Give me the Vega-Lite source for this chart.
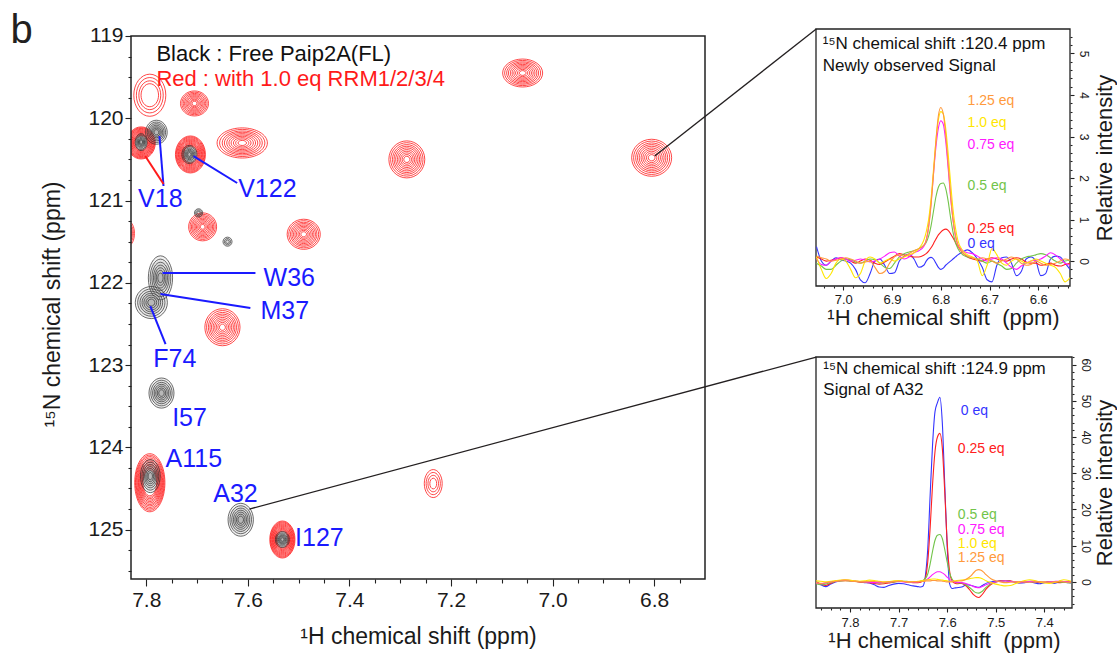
{
  "$schema": "https://vega.github.io/schema/vega-lite/v6.json",
  "background": "white",
  "padding": {"left": 10, "top": 10, "right": 2, "bottom": 2},
  "bounds": "flush",
  "spacing": 111,
  "config": {
    "font": "Liberation Sans",
    "view": {"stroke": null},
    "axis": {"labelFont": "Liberation Sans", "titleFont": "Liberation Sans", "labelColor": "#1a1a1a", "titleColor": "#1a1a1a", "tickColor": "#222", "tickWidth": 1.1, "domain": false, "grid": false, "titleFontWeight": "normal", "labelOverlap": false, "labelFlush": false, "labelBound": false},
    "text": {"font": "Liberation Sans"}
  },
  "datasets": {
    "redContours": [
      {"p":"R1","x":7.059,"y":119.45,"r":0.170},{"p":"R1","x":7.059,"y":119.45,"r":0.153},{"p":"R1","x":7.059,"y":119.45,"r":0.136},{"p":"R1","x":7.059,"y":119.45,"r":0.121},{"p":"R1","x":7.059,"y":119.45,"r":0.105},{"p":"R1","x":7.059,"y":119.45,"r":0.090},{"p":"R1","x":7.059,"y":119.45,"r":0.075},{"p":"R1","x":7.059,"y":119.45,"r":0.060},{"p":"R1","x":7.059,"y":119.45,"r":0.044},{"p":"R1","x":7.059,"y":119.45,"r":0.029},
      {"p":"R2","x":6.805,"y":120.48,"r":0.225},{"p":"R2","x":6.805,"y":120.48,"r":0.203},{"p":"R2","x":6.805,"y":120.48,"r":0.180},{"p":"R2","x":6.805,"y":120.48,"r":0.160},{"p":"R2","x":6.805,"y":120.48,"r":0.140},{"p":"R2","x":6.805,"y":120.48,"r":0.119},{"p":"R2","x":6.805,"y":120.48,"r":0.099},{"p":"R2","x":6.805,"y":120.48,"r":0.079},{"p":"R2","x":6.805,"y":120.48,"r":0.059},{"p":"R2","x":6.805,"y":120.48,"r":0.038},
      {"p":"R3","x":7.287,"y":120.50,"r":0.225},{"p":"R3","x":7.287,"y":120.50,"r":0.203},{"p":"R3","x":7.287,"y":120.50,"r":0.180},{"p":"R3","x":7.287,"y":120.50,"r":0.160},{"p":"R3","x":7.287,"y":120.50,"r":0.140},{"p":"R3","x":7.287,"y":120.50,"r":0.119},{"p":"R3","x":7.287,"y":120.50,"r":0.099},{"p":"R3","x":7.287,"y":120.50,"r":0.079},{"p":"R3","x":7.287,"y":120.50,"r":0.059},{"p":"R3","x":7.287,"y":120.50,"r":0.038},
      {"p":"R4","x":7.611,"y":120.30,"r":0.183},{"p":"R4","x":7.611,"y":120.30,"r":0.165},{"p":"R4","x":7.611,"y":120.30,"r":0.146},{"p":"R4","x":7.611,"y":120.30,"r":0.130},{"p":"R4","x":7.611,"y":120.30,"r":0.113},{"p":"R4","x":7.611,"y":120.30,"r":0.097},{"p":"R4","x":7.611,"y":120.30,"r":0.081},{"p":"R4","x":7.611,"y":120.30,"r":0.064},{"p":"R4","x":7.611,"y":120.30,"r":0.048},{"p":"R4","x":7.611,"y":120.30,"r":0.031},
      {"p":"R5","x":7.705,"y":119.82,"r":0.152},{"p":"R5","x":7.705,"y":119.82,"r":0.137},{"p":"R5","x":7.705,"y":119.82,"r":0.122},{"p":"R5","x":7.705,"y":119.82,"r":0.108},{"p":"R5","x":7.705,"y":119.82,"r":0.094},{"p":"R5","x":7.705,"y":119.82,"r":0.081},{"p":"R5","x":7.705,"y":119.82,"r":0.067},{"p":"R5","x":7.705,"y":119.82,"r":0.053},{"p":"R5","x":7.705,"y":119.82,"r":0.040},{"p":"R5","x":7.705,"y":119.82,"r":0.026},
      {"p":"R6","x":7.713,"y":120.44,"r":0.225},{"p":"R6","x":7.713,"y":120.44,"r":0.214},{"p":"R6","x":7.713,"y":120.44,"r":0.203},{"p":"R6","x":7.713,"y":120.44,"r":0.191},{"p":"R6","x":7.713,"y":120.44,"r":0.180},{"p":"R6","x":7.713,"y":120.44,"r":0.169},{"p":"R6","x":7.713,"y":120.44,"r":0.158},{"p":"R6","x":7.713,"y":120.44,"r":0.146},{"p":"R6","x":7.713,"y":120.44,"r":0.135},{"p":"R6","x":7.713,"y":120.44,"r":0.124},{"p":"R6","x":7.713,"y":120.44,"r":0.113},{"p":"R6","x":7.713,"y":120.44,"r":0.101},
      {"p":"R7","x":7.81,"y":120.30,"r":0.195},{"p":"R7","x":7.81,"y":120.30,"r":0.185},{"p":"R7","x":7.81,"y":120.30,"r":0.176},{"p":"R7","x":7.81,"y":120.30,"r":0.166},{"p":"R7","x":7.81,"y":120.30,"r":0.156},{"p":"R7","x":7.81,"y":120.30,"r":0.146},{"p":"R7","x":7.81,"y":120.30,"r":0.137},{"p":"R7","x":7.81,"y":120.30,"r":0.127},{"p":"R7","x":7.81,"y":120.30,"r":0.117},{"p":"R7","x":7.81,"y":120.30,"r":0.107},{"p":"R7","x":7.81,"y":120.30,"r":0.098},{"p":"R7","x":7.81,"y":120.30,"r":0.088},
      {"p":"R8","x":7.793,"y":119.72,"r":0.256},{"p":"R8","x":7.793,"y":119.72,"r":0.215},{"p":"R8","x":7.793,"y":119.72,"r":0.175},{"p":"R8","x":7.793,"y":119.72,"r":0.140},
      {"p":"R9","x":7.689,"y":121.32,"r":0.170},{"p":"R9","x":7.689,"y":121.32,"r":0.153},{"p":"R9","x":7.689,"y":121.32,"r":0.136},{"p":"R9","x":7.689,"y":121.32,"r":0.121},{"p":"R9","x":7.689,"y":121.32,"r":0.105},{"p":"R9","x":7.689,"y":121.32,"r":0.090},{"p":"R9","x":7.689,"y":121.32,"r":0.075},{"p":"R9","x":7.689,"y":121.32,"r":0.060},{"p":"R9","x":7.689,"y":121.32,"r":0.044},{"p":"R9","x":7.689,"y":121.32,"r":0.029},
      {"p":"R10","x":7.49,"y":121.41,"r":0.183},{"p":"R10","x":7.49,"y":121.41,"r":0.165},{"p":"R10","x":7.49,"y":121.41,"r":0.146},{"p":"R10","x":7.49,"y":121.41,"r":0.130},{"p":"R10","x":7.49,"y":121.41,"r":0.113},{"p":"R10","x":7.49,"y":121.41,"r":0.097},{"p":"R10","x":7.49,"y":121.41,"r":0.081},{"p":"R10","x":7.49,"y":121.41,"r":0.064},{"p":"R10","x":7.49,"y":121.41,"r":0.048},{"p":"R10","x":7.49,"y":121.41,"r":0.031},
      {"p":"R11","x":7.65,"y":122.54,"r":0.225},{"p":"R11","x":7.65,"y":122.54,"r":0.203},{"p":"R11","x":7.65,"y":122.54,"r":0.180},{"p":"R11","x":7.65,"y":122.54,"r":0.160},{"p":"R11","x":7.65,"y":122.54,"r":0.140},{"p":"R11","x":7.65,"y":122.54,"r":0.119},{"p":"R11","x":7.65,"y":122.54,"r":0.099},{"p":"R11","x":7.65,"y":122.54,"r":0.079},{"p":"R11","x":7.65,"y":122.54,"r":0.059},{"p":"R11","x":7.65,"y":122.54,"r":0.038},
      {"p":"R12","x":7.835,"y":121.4,"r":0.146},{"p":"R12","x":7.835,"y":121.4,"r":0.120},{"p":"R12","x":7.835,"y":121.4,"r":0.095},{"p":"R12","x":7.835,"y":121.4,"r":0.070},{"p":"R12","x":7.835,"y":121.4,"r":0.045},
      {"p":"R13","x":7.793,"y":124.43,"r":0.353},{"p":"R13","x":7.793,"y":124.43,"r":0.335},{"p":"R13","x":7.793,"y":124.43,"r":0.318},{"p":"R13","x":7.793,"y":124.43,"r":0.300},{"p":"R13","x":7.793,"y":124.43,"r":0.282},{"p":"R13","x":7.793,"y":124.43,"r":0.265},{"p":"R13","x":7.793,"y":124.43,"r":0.247},{"p":"R13","x":7.793,"y":124.43,"r":0.229},{"p":"R13","x":7.793,"y":124.43,"r":0.212},{"p":"R13","x":7.793,"y":124.43,"r":0.194},{"p":"R13","x":7.793,"y":124.43,"r":0.177},{"p":"R13","x":7.793,"y":124.43,"r":0.159},
      {"p":"R14","x":7.532,"y":125.12,"r":0.225},{"p":"R14","x":7.532,"y":125.12,"r":0.214},{"p":"R14","x":7.532,"y":125.12,"r":0.203},{"p":"R14","x":7.532,"y":125.12,"r":0.191},{"p":"R14","x":7.532,"y":125.12,"r":0.180},{"p":"R14","x":7.532,"y":125.12,"r":0.169},{"p":"R14","x":7.532,"y":125.12,"r":0.158},{"p":"R14","x":7.532,"y":125.12,"r":0.146},{"p":"R14","x":7.532,"y":125.12,"r":0.135},{"p":"R14","x":7.532,"y":125.12,"r":0.124},{"p":"R14","x":7.532,"y":125.12,"r":0.113},{"p":"R14","x":7.532,"y":125.12,"r":0.101},
      {"p":"R15","x":7.235,"y":124.44,"r":0.170},{"p":"R15","x":7.235,"y":124.44,"r":0.135},{"p":"R15","x":7.235,"y":124.44,"r":0.100},{"p":"R15","x":7.235,"y":124.44,"r":0.065}
    ],
    "blackContours": [
      {"p":"B1","x":7.78,"y":120.17,"r":0.146},{"p":"B1","x":7.78,"y":120.17,"r":0.124},{"p":"B1","x":7.78,"y":120.17,"r":0.104},{"p":"B1","x":7.78,"y":120.17,"r":0.085},{"p":"B1","x":7.78,"y":120.17,"r":0.067},{"p":"B1","x":7.78,"y":120.17,"r":0.050},{"p":"B1","x":7.78,"y":120.17,"r":0.032},
      {"p":"B2","x":7.81,"y":120.29,"r":0.103},{"p":"B2","x":7.81,"y":120.29,"r":0.088},{"p":"B2","x":7.81,"y":120.29,"r":0.073},{"p":"B2","x":7.81,"y":120.29,"r":0.060},{"p":"B2","x":7.81,"y":120.29,"r":0.047},{"p":"B2","x":7.81,"y":120.29,"r":0.035},{"p":"B2","x":7.81,"y":120.29,"r":0.023},
      {"p":"B3","x":7.715,"y":120.44,"r":0.110},{"p":"B3","x":7.715,"y":120.44,"r":0.094},{"p":"B3","x":7.715,"y":120.44,"r":0.078},{"p":"B3","x":7.715,"y":120.44,"r":0.064},{"p":"B3","x":7.715,"y":120.44,"r":0.051},{"p":"B3","x":7.715,"y":120.44,"r":0.037},{"p":"B3","x":7.715,"y":120.44,"r":0.024},
      {"p":"B4","x":7.697,"y":121.15,"r":0.050},{"p":"B4","x":7.697,"y":121.15,"r":0.035},{"p":"B4","x":7.697,"y":121.15,"r":0.020},
      {"p":"B5","x":7.64,"y":121.5,"r":0.055},{"p":"B5","x":7.64,"y":121.5,"r":0.038},{"p":"B5","x":7.64,"y":121.5,"r":0.022},
      {"p":"B6","x":7.772,"y":121.94,"r":0.268},{"p":"B6","x":7.772,"y":121.94,"r":0.228},{"p":"B6","x":7.772,"y":121.94,"r":0.190},{"p":"B6","x":7.772,"y":121.94,"r":0.155},{"p":"B6","x":7.772,"y":121.94,"r":0.123},{"p":"B6","x":7.772,"y":121.94,"r":0.091},{"p":"B6","x":7.772,"y":121.94,"r":0.059},
      {"p":"B7","x":7.79,"y":122.24,"r":0.195},{"p":"B7","x":7.79,"y":122.24,"r":0.166},{"p":"B7","x":7.79,"y":122.24,"r":0.138},{"p":"B7","x":7.79,"y":122.24,"r":0.113},{"p":"B7","x":7.79,"y":122.24,"r":0.090},{"p":"B7","x":7.79,"y":122.24,"r":0.066},{"p":"B7","x":7.79,"y":122.24,"r":0.043},
      {"p":"B8","x":7.77,"y":123.34,"r":0.183},{"p":"B8","x":7.77,"y":123.34,"r":0.156},{"p":"B8","x":7.77,"y":123.34,"r":0.130},{"p":"B8","x":7.77,"y":123.34,"r":0.106},{"p":"B8","x":7.77,"y":123.34,"r":0.084},{"p":"B8","x":7.77,"y":123.34,"r":0.062},{"p":"B8","x":7.77,"y":123.34,"r":0.040},
      {"p":"B9","x":7.792,"y":124.35,"r":0.200},{"p":"B9","x":7.792,"y":124.35,"r":0.170},{"p":"B9","x":7.792,"y":124.35,"r":0.142},{"p":"B9","x":7.792,"y":124.35,"r":0.116},{"p":"B9","x":7.792,"y":124.35,"r":0.092},{"p":"B9","x":7.792,"y":124.35,"r":0.068},{"p":"B9","x":7.792,"y":124.35,"r":0.044},
      {"p":"B10","x":7.614,"y":124.88,"r":0.200},{"p":"B10","x":7.614,"y":124.88,"r":0.170},{"p":"B10","x":7.614,"y":124.88,"r":0.142},{"p":"B10","x":7.614,"y":124.88,"r":0.116},{"p":"B10","x":7.614,"y":124.88,"r":0.092},{"p":"B10","x":7.614,"y":124.88,"r":0.068},{"p":"B10","x":7.614,"y":124.88,"r":0.044},
      {"p":"B11","x":7.532,"y":125.12,"r":0.097},{"p":"B11","x":7.532,"y":125.12,"r":0.082},{"p":"B11","x":7.532,"y":125.12,"r":0.069},{"p":"B11","x":7.532,"y":125.12,"r":0.056},{"p":"B11","x":7.532,"y":125.12,"r":0.045},{"p":"B11","x":7.532,"y":125.12,"r":0.033},{"p":"B11","x":7.532,"y":125.12,"r":0.021}
    ],
    "trace1204": [
      {"s":"0 eq","x":7.055,"y":0.35},{"s":"0 eq","x":7.045,"y":0},{"s":"0 eq","x":7.035,"y":-0.1},{"s":"0 eq","x":7.025,"y":0},{"s":"0 eq","x":7.015,"y":0.08},{"s":"0 eq","x":7.005,"y":0.03},{"s":"0 eq","x":6.995,"y":0},{"s":"0 eq","x":6.985,"y":-0.05},{"s":"0 eq","x":6.975,"y":-0.2},{"s":"0 eq","x":6.965,"y":-0.45},{"s":"0 eq","x":6.955,"y":-0.52},{"s":"0 eq","x":6.945,"y":-0.3},{"s":"0 eq","x":6.935,"y":0},{"s":"0 eq","x":6.925,"y":0.05},{"s":"0 eq","x":6.915,"y":-0.1},{"s":"0 eq","x":6.905,"y":-0.3},{"s":"0 eq","x":6.895,"y":-0.28},{"s":"0 eq","x":6.885,"y":0},{"s":"0 eq","x":6.875,"y":0.12},{"s":"0 eq","x":6.865,"y":0.17},{"s":"0 eq","x":6.855,"y":0.05},{"s":"0 eq","x":6.845,"y":-0.15},{"s":"0 eq","x":6.835,"y":-0.1},{"s":"0 eq","x":6.83,"y":0},{"s":"0 eq","x":6.825,"y":0.07},{"s":"0 eq","x":6.82,"y":0.09},{"s":"0 eq","x":6.815,"y":0.05},{"s":"0 eq","x":6.81,"y":-0.05},{"s":"0 eq","x":6.805,"y":-0.15},{"s":"0 eq","x":6.8,"y":-0.2},{"s":"0 eq","x":6.795,"y":-0.17},{"s":"0 eq","x":6.79,"y":-0.1},{"s":"0 eq","x":6.785,"y":-0.05},{"s":"0 eq","x":6.78,"y":0},{"s":"0 eq","x":6.775,"y":0.05},{"s":"0 eq","x":6.77,"y":0.1},{"s":"0 eq","x":6.765,"y":0.15},{"s":"0 eq","x":6.755,"y":0.22},{"s":"0 eq","x":6.745,"y":0.27},{"s":"0 eq","x":6.735,"y":0.2},{"s":"0 eq","x":6.725,"y":0.05},{"s":"0 eq","x":6.715,"y":-0.15},{"s":"0 eq","x":6.705,"y":-0.45},{"s":"0 eq","x":6.695,"y":-0.5},{"s":"0 eq","x":6.685,"y":-0.1},{"s":"0 eq","x":6.675,"y":0.08},{"s":"0 eq","x":6.665,"y":0.1},{"s":"0 eq","x":6.655,"y":-0.05},{"s":"0 eq","x":6.645,"y":-0.35},{"s":"0 eq","x":6.635,"y":-0.25},{"s":"0 eq","x":6.625,"y":0.05},{"s":"0 eq","x":6.615,"y":0.1},{"s":"0 eq","x":6.605,"y":0},{"s":"0 eq","x":6.595,"y":-0.35},{"s":"0 eq","x":6.585,"y":-0.3},{"s":"0 eq","x":6.575,"y":0.05},{"s":"0 eq","x":6.565,"y":0.12},{"s":"0 eq","x":6.555,"y":0.1},{"s":"0 eq","x":6.545,"y":-0.05},{"s":"0 eq","x":6.535,"y":-0.2},
      {"s":"0.25 eq","x":7.055,"y":0.1},{"s":"0.25 eq","x":7.045,"y":0.05},{"s":"0.25 eq","x":7.035,"y":0},{"s":"0.25 eq","x":7.025,"y":0.02},{"s":"0.25 eq","x":7.015,"y":0.05},{"s":"0.25 eq","x":7.005,"y":0.08},{"s":"0.25 eq","x":6.995,"y":0.05},{"s":"0.25 eq","x":6.985,"y":0},{"s":"0.25 eq","x":6.975,"y":-0.05},{"s":"0.25 eq","x":6.965,"y":0},{"s":"0.25 eq","x":6.955,"y":0.05},{"s":"0.25 eq","x":6.945,"y":0.02},{"s":"0.25 eq","x":6.935,"y":-0.05},{"s":"0.25 eq","x":6.925,"y":-0.08},{"s":"0.25 eq","x":6.915,"y":-0.02},{"s":"0.25 eq","x":6.905,"y":0.05},{"s":"0.25 eq","x":6.895,"y":0.12},{"s":"0.25 eq","x":6.885,"y":0.18},{"s":"0.25 eq","x":6.875,"y":0.15},{"s":"0.25 eq","x":6.865,"y":0.12},{"s":"0.25 eq","x":6.855,"y":0.1},{"s":"0.25 eq","x":6.845,"y":0.1},{"s":"0.25 eq","x":6.835,"y":0.14},{"s":"0.25 eq","x":6.83,"y":0.18},{"s":"0.25 eq","x":6.825,"y":0.24},{"s":"0.25 eq","x":6.82,"y":0.32},{"s":"0.25 eq","x":6.815,"y":0.42},{"s":"0.25 eq","x":6.81,"y":0.53},{"s":"0.25 eq","x":6.805,"y":0.63},{"s":"0.25 eq","x":6.8,"y":0.7},{"s":"0.25 eq","x":6.795,"y":0.75},{"s":"0.25 eq","x":6.79,"y":0.77},{"s":"0.25 eq","x":6.785,"y":0.74},{"s":"0.25 eq","x":6.78,"y":0.66},{"s":"0.25 eq","x":6.775,"y":0.56},{"s":"0.25 eq","x":6.77,"y":0.45},{"s":"0.25 eq","x":6.765,"y":0.35},{"s":"0.25 eq","x":6.755,"y":0.2},{"s":"0.25 eq","x":6.745,"y":0.1},{"s":"0.25 eq","x":6.735,"y":0.05},{"s":"0.25 eq","x":6.725,"y":0.02},{"s":"0.25 eq","x":6.715,"y":0},{"s":"0.25 eq","x":6.705,"y":0.05},{"s":"0.25 eq","x":6.695,"y":0.08},{"s":"0.25 eq","x":6.685,"y":0.05},{"s":"0.25 eq","x":6.675,"y":0.02},{"s":"0.25 eq","x":6.665,"y":0},{"s":"0.25 eq","x":6.655,"y":0.05},{"s":"0.25 eq","x":6.645,"y":0.08},{"s":"0.25 eq","x":6.635,"y":0.05},{"s":"0.25 eq","x":6.625,"y":-0.02},{"s":"0.25 eq","x":6.615,"y":-0.05},{"s":"0.25 eq","x":6.605,"y":-0.05},{"s":"0.25 eq","x":6.595,"y":-0.1},{"s":"0.25 eq","x":6.585,"y":-0.08},{"s":"0.25 eq","x":6.575,"y":-0.05},{"s":"0.25 eq","x":6.565,"y":-0.1},{"s":"0.25 eq","x":6.555,"y":-0.12},{"s":"0.25 eq","x":6.545,"y":-0.08},{"s":"0.25 eq","x":6.535,"y":-0.05},
      {"s":"0.5 eq","x":7.055,"y":-0.05},{"s":"0.5 eq","x":7.045,"y":-0.12},{"s":"0.5 eq","x":7.035,"y":-0.2},{"s":"0.5 eq","x":7.025,"y":-0.2},{"s":"0.5 eq","x":7.015,"y":-0.1},{"s":"0.5 eq","x":7.005,"y":0},{"s":"0.5 eq","x":6.995,"y":0.05},{"s":"0.5 eq","x":6.985,"y":0.03},{"s":"0.5 eq","x":6.975,"y":-0.02},{"s":"0.5 eq","x":6.965,"y":-0.05},{"s":"0.5 eq","x":6.955,"y":0},{"s":"0.5 eq","x":6.945,"y":0.05},{"s":"0.5 eq","x":6.935,"y":0.03},{"s":"0.5 eq","x":6.925,"y":-0.05},{"s":"0.5 eq","x":6.915,"y":-0.15},{"s":"0.5 eq","x":6.905,"y":-0.18},{"s":"0.5 eq","x":6.895,"y":-0.05},{"s":"0.5 eq","x":6.885,"y":0.1},{"s":"0.5 eq","x":6.875,"y":0.18},{"s":"0.5 eq","x":6.865,"y":0.22},{"s":"0.5 eq","x":6.855,"y":0.25},{"s":"0.5 eq","x":6.845,"y":0.3},{"s":"0.5 eq","x":6.835,"y":0.38},{"s":"0.5 eq","x":6.83,"y":0.45},{"s":"0.5 eq","x":6.825,"y":0.6},{"s":"0.5 eq","x":6.82,"y":0.85},{"s":"0.5 eq","x":6.815,"y":1.2},{"s":"0.5 eq","x":6.81,"y":1.55},{"s":"0.5 eq","x":6.805,"y":1.78},{"s":"0.5 eq","x":6.8,"y":1.87},{"s":"0.5 eq","x":6.795,"y":1.88},{"s":"0.5 eq","x":6.79,"y":1.75},{"s":"0.5 eq","x":6.785,"y":1.45},{"s":"0.5 eq","x":6.78,"y":1.05},{"s":"0.5 eq","x":6.775,"y":0.7},{"s":"0.5 eq","x":6.77,"y":0.45},{"s":"0.5 eq","x":6.765,"y":0.3},{"s":"0.5 eq","x":6.755,"y":0.15},{"s":"0.5 eq","x":6.745,"y":0.1},{"s":"0.5 eq","x":6.735,"y":0.08},{"s":"0.5 eq","x":6.725,"y":0.05},{"s":"0.5 eq","x":6.715,"y":0},{"s":"0.5 eq","x":6.705,"y":-0.05},{"s":"0.5 eq","x":6.695,"y":0},{"s":"0.5 eq","x":6.685,"y":-0.05},{"s":"0.5 eq","x":6.675,"y":-0.12},{"s":"0.5 eq","x":6.665,"y":-0.2},{"s":"0.5 eq","x":6.655,"y":-0.18},{"s":"0.5 eq","x":6.645,"y":-0.05},{"s":"0.5 eq","x":6.635,"y":0.05},{"s":"0.5 eq","x":6.625,"y":0.1},{"s":"0.5 eq","x":6.615,"y":0.12},{"s":"0.5 eq","x":6.605,"y":0.15},{"s":"0.5 eq","x":6.595,"y":0.18},{"s":"0.5 eq","x":6.585,"y":0.15},{"s":"0.5 eq","x":6.575,"y":0.08},{"s":"0.5 eq","x":6.565,"y":0},{"s":"0.5 eq","x":6.555,"y":-0.05},{"s":"0.5 eq","x":6.545,"y":0},{"s":"0.5 eq","x":6.535,"y":0.02},
      {"s":"0.75 eq","x":7.055,"y":0.05},{"s":"0.75 eq","x":7.045,"y":-0.08},{"s":"0.75 eq","x":7.035,"y":-0.1},{"s":"0.75 eq","x":7.025,"y":0},{"s":"0.75 eq","x":7.015,"y":0.05},{"s":"0.75 eq","x":7.005,"y":0.08},{"s":"0.75 eq","x":6.995,"y":0.05},{"s":"0.75 eq","x":6.985,"y":0},{"s":"0.75 eq","x":6.975,"y":0.02},{"s":"0.75 eq","x":6.965,"y":0.05},{"s":"0.75 eq","x":6.955,"y":0.02},{"s":"0.75 eq","x":6.945,"y":-0.02},{"s":"0.75 eq","x":6.935,"y":0},{"s":"0.75 eq","x":6.925,"y":0.05},{"s":"0.75 eq","x":6.915,"y":0.12},{"s":"0.75 eq","x":6.905,"y":0.2},{"s":"0.75 eq","x":6.895,"y":0.22},{"s":"0.75 eq","x":6.885,"y":0.12},{"s":"0.75 eq","x":6.875,"y":0.05},{"s":"0.75 eq","x":6.865,"y":0.1},{"s":"0.75 eq","x":6.855,"y":0.2},{"s":"0.75 eq","x":6.845,"y":0.25},{"s":"0.75 eq","x":6.835,"y":0.35},{"s":"0.75 eq","x":6.83,"y":0.5},{"s":"0.75 eq","x":6.825,"y":0.85},{"s":"0.75 eq","x":6.82,"y":1.4},{"s":"0.75 eq","x":6.815,"y":2.1},{"s":"0.75 eq","x":6.81,"y":2.75},{"s":"0.75 eq","x":6.805,"y":3.2},{"s":"0.75 eq","x":6.8,"y":3.38},{"s":"0.75 eq","x":6.795,"y":3.3},{"s":"0.75 eq","x":6.79,"y":2.9},{"s":"0.75 eq","x":6.785,"y":2.25},{"s":"0.75 eq","x":6.78,"y":1.55},{"s":"0.75 eq","x":6.775,"y":1.0},{"s":"0.75 eq","x":6.77,"y":0.62},{"s":"0.75 eq","x":6.765,"y":0.4},{"s":"0.75 eq","x":6.755,"y":0.25},{"s":"0.75 eq","x":6.745,"y":0.2},{"s":"0.75 eq","x":6.735,"y":0.18},{"s":"0.75 eq","x":6.725,"y":0.12},{"s":"0.75 eq","x":6.715,"y":0.05},{"s":"0.75 eq","x":6.705,"y":0},{"s":"0.75 eq","x":6.695,"y":0.05},{"s":"0.75 eq","x":6.685,"y":0.08},{"s":"0.75 eq","x":6.675,"y":0.05},{"s":"0.75 eq","x":6.665,"y":-0.05},{"s":"0.75 eq","x":6.655,"y":-0.15},{"s":"0.75 eq","x":6.645,"y":-0.2},{"s":"0.75 eq","x":6.635,"y":-0.12},{"s":"0.75 eq","x":6.625,"y":-0.05},{"s":"0.75 eq","x":6.615,"y":0},{"s":"0.75 eq","x":6.605,"y":0.02},{"s":"0.75 eq","x":6.595,"y":0.05},{"s":"0.75 eq","x":6.585,"y":0.12},{"s":"0.75 eq","x":6.575,"y":0.2},{"s":"0.75 eq","x":6.565,"y":0.15},{"s":"0.75 eq","x":6.555,"y":0.05},{"s":"0.75 eq","x":6.545,"y":-0.05},{"s":"0.75 eq","x":6.535,"y":-0.1},
      {"s":"1.0 eq","x":7.055,"y":0.1},{"s":"1.0 eq","x":7.045,"y":-0.2},{"s":"1.0 eq","x":7.035,"y":-0.42},{"s":"1.0 eq","x":7.025,"y":-0.3},{"s":"1.0 eq","x":7.015,"y":-0.05},{"s":"1.0 eq","x":7.005,"y":0.05},{"s":"1.0 eq","x":6.995,"y":0},{"s":"1.0 eq","x":6.985,"y":-0.2},{"s":"1.0 eq","x":6.975,"y":-0.4},{"s":"1.0 eq","x":6.965,"y":-0.3},{"s":"1.0 eq","x":6.955,"y":0},{"s":"1.0 eq","x":6.945,"y":0.1},{"s":"1.0 eq","x":6.935,"y":0.05},{"s":"1.0 eq","x":6.925,"y":-0.05},{"s":"1.0 eq","x":6.915,"y":0},{"s":"1.0 eq","x":6.905,"y":0.05},{"s":"1.0 eq","x":6.895,"y":0},{"s":"1.0 eq","x":6.885,"y":0.05},{"s":"1.0 eq","x":6.875,"y":0.1},{"s":"1.0 eq","x":6.865,"y":0.15},{"s":"1.0 eq","x":6.855,"y":0.2},{"s":"1.0 eq","x":6.845,"y":0.3},{"s":"1.0 eq","x":6.835,"y":0.5},{"s":"1.0 eq","x":6.83,"y":0.7},{"s":"1.0 eq","x":6.825,"y":1.0},{"s":"1.0 eq","x":6.82,"y":1.5},{"s":"1.0 eq","x":6.815,"y":2.2},{"s":"1.0 eq","x":6.81,"y":2.9},{"s":"1.0 eq","x":6.805,"y":3.4},{"s":"1.0 eq","x":6.8,"y":3.6},{"s":"1.0 eq","x":6.795,"y":3.55},{"s":"1.0 eq","x":6.79,"y":3.2},{"s":"1.0 eq","x":6.785,"y":2.6},{"s":"1.0 eq","x":6.78,"y":1.9},{"s":"1.0 eq","x":6.775,"y":1.25},{"s":"1.0 eq","x":6.77,"y":0.8},{"s":"1.0 eq","x":6.765,"y":0.5},{"s":"1.0 eq","x":6.755,"y":0.25},{"s":"1.0 eq","x":6.745,"y":0.15},{"s":"1.0 eq","x":6.735,"y":0.1},{"s":"1.0 eq","x":6.725,"y":0},{"s":"1.0 eq","x":6.715,"y":-0.35},{"s":"1.0 eq","x":6.705,"y":-0.1},{"s":"1.0 eq","x":6.695,"y":0.3},{"s":"1.0 eq","x":6.685,"y":0.15},{"s":"1.0 eq","x":6.675,"y":-0.05},{"s":"1.0 eq","x":6.665,"y":-0.1},{"s":"1.0 eq","x":6.655,"y":0},{"s":"1.0 eq","x":6.645,"y":0.05},{"s":"1.0 eq","x":6.635,"y":0},{"s":"1.0 eq","x":6.625,"y":-0.05},{"s":"1.0 eq","x":6.615,"y":0},{"s":"1.0 eq","x":6.605,"y":0.05},{"s":"1.0 eq","x":6.595,"y":0},{"s":"1.0 eq","x":6.585,"y":-0.05},{"s":"1.0 eq","x":6.575,"y":-0.1},{"s":"1.0 eq","x":6.565,"y":-0.15},{"s":"1.0 eq","x":6.555,"y":-0.3},{"s":"1.0 eq","x":6.545,"y":-0.5},{"s":"1.0 eq","x":6.535,"y":-0.4},
      {"s":"1.25 eq","x":7.055,"y":0.12},{"s":"1.25 eq","x":7.045,"y":0.08},{"s":"1.25 eq","x":7.035,"y":0.05},{"s":"1.25 eq","x":7.025,"y":0},{"s":"1.25 eq","x":7.015,"y":0.02},{"s":"1.25 eq","x":7.005,"y":0.05},{"s":"1.25 eq","x":6.995,"y":0.08},{"s":"1.25 eq","x":6.985,"y":0.05},{"s":"1.25 eq","x":6.975,"y":0},{"s":"1.25 eq","x":6.965,"y":-0.05},{"s":"1.25 eq","x":6.955,"y":-0.02},{"s":"1.25 eq","x":6.945,"y":0},{"s":"1.25 eq","x":6.935,"y":-0.15},{"s":"1.25 eq","x":6.925,"y":-0.3},{"s":"1.25 eq","x":6.915,"y":-0.25},{"s":"1.25 eq","x":6.905,"y":-0.05},{"s":"1.25 eq","x":6.895,"y":0.1},{"s":"1.25 eq","x":6.885,"y":0.15},{"s":"1.25 eq","x":6.875,"y":0.12},{"s":"1.25 eq","x":6.865,"y":0.18},{"s":"1.25 eq","x":6.855,"y":0.25},{"s":"1.25 eq","x":6.845,"y":0.3},{"s":"1.25 eq","x":6.835,"y":0.38},{"s":"1.25 eq","x":6.83,"y":0.5},{"s":"1.25 eq","x":6.825,"y":0.8},{"s":"1.25 eq","x":6.82,"y":1.35},{"s":"1.25 eq","x":6.815,"y":2.1},{"s":"1.25 eq","x":6.81,"y":2.9},{"s":"1.25 eq","x":6.805,"y":3.5},{"s":"1.25 eq","x":6.8,"y":3.7},{"s":"1.25 eq","x":6.795,"y":3.55},{"s":"1.25 eq","x":6.79,"y":3.05},{"s":"1.25 eq","x":6.785,"y":2.35},{"s":"1.25 eq","x":6.78,"y":1.6},{"s":"1.25 eq","x":6.775,"y":1.0},{"s":"1.25 eq","x":6.77,"y":0.6},{"s":"1.25 eq","x":6.765,"y":0.38},{"s":"1.25 eq","x":6.755,"y":0.2},{"s":"1.25 eq","x":6.745,"y":0.12},{"s":"1.25 eq","x":6.735,"y":0.08},{"s":"1.25 eq","x":6.725,"y":0.05},{"s":"1.25 eq","x":6.715,"y":0.08},{"s":"1.25 eq","x":6.705,"y":0.05},{"s":"1.25 eq","x":6.695,"y":0},{"s":"1.25 eq","x":6.685,"y":-0.05},{"s":"1.25 eq","x":6.675,"y":0},{"s":"1.25 eq","x":6.665,"y":0.05},{"s":"1.25 eq","x":6.655,"y":0.1},{"s":"1.25 eq","x":6.645,"y":0.05},{"s":"1.25 eq","x":6.635,"y":-0.05},{"s":"1.25 eq","x":6.625,"y":-0.1},{"s":"1.25 eq","x":6.615,"y":-0.08},{"s":"1.25 eq","x":6.605,"y":0},{"s":"1.25 eq","x":6.595,"y":-0.05},{"s":"1.25 eq","x":6.585,"y":-0.1},{"s":"1.25 eq","x":6.575,"y":-0.08},{"s":"1.25 eq","x":6.565,"y":-0.05},{"s":"1.25 eq","x":6.555,"y":0},{"s":"1.25 eq","x":6.545,"y":0.05},{"s":"1.25 eq","x":6.535,"y":0.02}
    ],
    "traceA32": [
      {"s":"0 eq","x":7.87,"y":0.2},{"s":"0 eq","x":7.86,"y":-0.8},{"s":"0 eq","x":7.85,"y":-1.3},{"s":"0 eq","x":7.84,"y":-0.6},{"s":"0 eq","x":7.83,"y":0},{"s":"0 eq","x":7.82,"y":0.3},{"s":"0 eq","x":7.81,"y":0.4},{"s":"0 eq","x":7.80,"y":0.3},{"s":"0 eq","x":7.79,"y":0.2},{"s":"0 eq","x":7.78,"y":0},{"s":"0 eq","x":7.77,"y":-0.2},{"s":"0 eq","x":7.76,"y":-0.3},{"s":"0 eq","x":7.75,"y":-0.8},{"s":"0 eq","x":7.74,"y":-1.4},{"s":"0 eq","x":7.73,"y":-1.5},{"s":"0 eq","x":7.72,"y":-1},{"s":"0 eq","x":7.71,"y":-0.6},{"s":"0 eq","x":7.70,"y":-0.4},{"s":"0 eq","x":7.69,"y":-0.5},{"s":"0 eq","x":7.68,"y":-0.8},{"s":"0 eq","x":7.67,"y":-1.1},{"s":"0 eq","x":7.66,"y":-1.3},{"s":"0 eq","x":7.655,"y":-1.4},{"s":"0 eq","x":7.65,"y":-1.2},{"s":"0 eq","x":7.645,"y":1.5},{"s":"0 eq","x":7.64,"y":9},{"s":"0 eq","x":7.635,"y":24},{"s":"0 eq","x":7.63,"y":38},{"s":"0 eq","x":7.625,"y":47},{"s":"0 eq","x":7.62,"y":49.5},{"s":"0 eq","x":7.615,"y":51},{"s":"0 eq","x":7.61,"y":44},{"s":"0 eq","x":7.605,"y":27},{"s":"0 eq","x":7.60,"y":10},{"s":"0 eq","x":7.595,"y":-0.5},{"s":"0 eq","x":7.59,"y":-1.8},{"s":"0 eq","x":7.585,"y":-1.7},{"s":"0 eq","x":7.58,"y":-1.6},{"s":"0 eq","x":7.57,"y":-1.4},{"s":"0 eq","x":7.56,"y":-0.8},{"s":"0 eq","x":7.55,"y":-1},{"s":"0 eq","x":7.545,"y":-1.2},{"s":"0 eq","x":7.54,"y":-1.4},{"s":"0 eq","x":7.535,"y":-1.5},{"s":"0 eq","x":7.53,"y":-1.2},{"s":"0 eq","x":7.525,"y":-0.8},{"s":"0 eq","x":7.52,"y":-0.4},{"s":"0 eq","x":7.51,"y":0},{"s":"0 eq","x":7.50,"y":0.2},{"s":"0 eq","x":7.49,"y":0.3},{"s":"0 eq","x":7.48,"y":0.4},{"s":"0 eq","x":7.47,"y":0.2},{"s":"0 eq","x":7.46,"y":-0.1},{"s":"0 eq","x":7.45,"y":-0.3},{"s":"0 eq","x":7.44,"y":-0.2},{"s":"0 eq","x":7.43,"y":0},{"s":"0 eq","x":7.42,"y":-0.3},{"s":"0 eq","x":7.41,"y":-0.5},{"s":"0 eq","x":7.40,"y":-0.2},{"s":"0 eq","x":7.39,"y":0},{"s":"0 eq","x":7.38,"y":-0.4},{"s":"0 eq","x":7.37,"y":-0.1},{"s":"0 eq","x":7.36,"y":0},{"s":"0 eq","x":7.35,"y":-0.2},{"s":"0 eq","x":7.345,"y":-0.3},
      {"s":"0.25 eq","x":7.87,"y":0},{"s":"0.25 eq","x":7.86,"y":-0.6},{"s":"0.25 eq","x":7.85,"y":-1},{"s":"0.25 eq","x":7.84,"y":-0.4},{"s":"0.25 eq","x":7.83,"y":0.1},{"s":"0.25 eq","x":7.82,"y":0.4},{"s":"0.25 eq","x":7.81,"y":0.5},{"s":"0.25 eq","x":7.80,"y":0.4},{"s":"0.25 eq","x":7.79,"y":0.2},{"s":"0.25 eq","x":7.78,"y":0},{"s":"0.25 eq","x":7.77,"y":-0.1},{"s":"0.25 eq","x":7.76,"y":-0.2},{"s":"0.25 eq","x":7.75,"y":-0.4},{"s":"0.25 eq","x":7.74,"y":-0.6},{"s":"0.25 eq","x":7.73,"y":-0.5},{"s":"0.25 eq","x":7.72,"y":-0.3},{"s":"0.25 eq","x":7.71,"y":-0.1},{"s":"0.25 eq","x":7.70,"y":0.2},{"s":"0.25 eq","x":7.69,"y":0.1},{"s":"0.25 eq","x":7.68,"y":-0.1},{"s":"0.25 eq","x":7.67,"y":-0.2},{"s":"0.25 eq","x":7.66,"y":-0.2},{"s":"0.25 eq","x":7.655,"y":-0.1},{"s":"0.25 eq","x":7.65,"y":0.2},{"s":"0.25 eq","x":7.645,"y":1},{"s":"0.25 eq","x":7.64,"y":5.5},{"s":"0.25 eq","x":7.635,"y":15},{"s":"0.25 eq","x":7.63,"y":27},{"s":"0.25 eq","x":7.625,"y":36},{"s":"0.25 eq","x":7.62,"y":40},{"s":"0.25 eq","x":7.615,"y":41},{"s":"0.25 eq","x":7.61,"y":37},{"s":"0.25 eq","x":7.605,"y":25},{"s":"0.25 eq","x":7.60,"y":11},{"s":"0.25 eq","x":7.595,"y":3},{"s":"0.25 eq","x":7.59,"y":0.3},{"s":"0.25 eq","x":7.585,"y":-0.3},{"s":"0.25 eq","x":7.58,"y":-0.5},{"s":"0.25 eq","x":7.57,"y":-0.4},{"s":"0.25 eq","x":7.56,"y":-1.2},{"s":"0.25 eq","x":7.55,"y":-2.8},{"s":"0.25 eq","x":7.545,"y":-3.6},{"s":"0.25 eq","x":7.54,"y":-4.1},{"s":"0.25 eq","x":7.535,"y":-4.3},{"s":"0.25 eq","x":7.53,"y":-3.8},{"s":"0.25 eq","x":7.525,"y":-3},{"s":"0.25 eq","x":7.52,"y":-2},{"s":"0.25 eq","x":7.51,"y":-0.7},{"s":"0.25 eq","x":7.50,"y":0},{"s":"0.25 eq","x":7.49,"y":0.3},{"s":"0.25 eq","x":7.48,"y":0.4},{"s":"0.25 eq","x":7.47,"y":0.3},{"s":"0.25 eq","x":7.46,"y":0},{"s":"0.25 eq","x":7.45,"y":-0.2},{"s":"0.25 eq","x":7.44,"y":-0.1},{"s":"0.25 eq","x":7.43,"y":0.1},{"s":"0.25 eq","x":7.42,"y":0},{"s":"0.25 eq","x":7.41,"y":-0.2},{"s":"0.25 eq","x":7.40,"y":-0.1},{"s":"0.25 eq","x":7.39,"y":0.1},{"s":"0.25 eq","x":7.38,"y":0},{"s":"0.25 eq","x":7.37,"y":-0.2},{"s":"0.25 eq","x":7.36,"y":-0.1},{"s":"0.25 eq","x":7.35,"y":0},{"s":"0.25 eq","x":7.345,"y":0},
      {"s":"0.5 eq","x":7.87,"y":-0.5},{"s":"0.5 eq","x":7.86,"y":-0.8},{"s":"0.5 eq","x":7.85,"y":-0.6},{"s":"0.5 eq","x":7.84,"y":-0.2},{"s":"0.5 eq","x":7.83,"y":0.1},{"s":"0.5 eq","x":7.82,"y":0.3},{"s":"0.5 eq","x":7.81,"y":0.4},{"s":"0.5 eq","x":7.80,"y":0.3},{"s":"0.5 eq","x":7.79,"y":0.2},{"s":"0.5 eq","x":7.78,"y":0.1},{"s":"0.5 eq","x":7.77,"y":0},{"s":"0.5 eq","x":7.76,"y":-0.1},{"s":"0.5 eq","x":7.75,"y":-0.2},{"s":"0.5 eq","x":7.74,"y":-0.3},{"s":"0.5 eq","x":7.73,"y":-0.2},{"s":"0.5 eq","x":7.72,"y":-0.1},{"s":"0.5 eq","x":7.71,"y":0},{"s":"0.5 eq","x":7.70,"y":0.1},{"s":"0.5 eq","x":7.69,"y":0.2},{"s":"0.5 eq","x":7.68,"y":0.1},{"s":"0.5 eq","x":7.67,"y":0},{"s":"0.5 eq","x":7.66,"y":0.1},{"s":"0.5 eq","x":7.655,"y":0.2},{"s":"0.5 eq","x":7.65,"y":0.4},{"s":"0.5 eq","x":7.645,"y":0.9},{"s":"0.5 eq","x":7.64,"y":2.2},{"s":"0.5 eq","x":7.635,"y":5},{"s":"0.5 eq","x":7.63,"y":8.5},{"s":"0.5 eq","x":7.625,"y":11.5},{"s":"0.5 eq","x":7.62,"y":12.9},{"s":"0.5 eq","x":7.615,"y":13.1},{"s":"0.5 eq","x":7.61,"y":12},{"s":"0.5 eq","x":7.605,"y":9},{"s":"0.5 eq","x":7.60,"y":5.5},{"s":"0.5 eq","x":7.595,"y":2.5},{"s":"0.5 eq","x":7.59,"y":0.8},{"s":"0.5 eq","x":7.585,"y":0.1},{"s":"0.5 eq","x":7.58,"y":-0.2},{"s":"0.5 eq","x":7.57,"y":-0.3},{"s":"0.5 eq","x":7.56,"y":-0.9},{"s":"0.5 eq","x":7.55,"y":-2},{"s":"0.5 eq","x":7.545,"y":-2.6},{"s":"0.5 eq","x":7.54,"y":-3},{"s":"0.5 eq","x":7.535,"y":-3.1},{"s":"0.5 eq","x":7.53,"y":-2.8},{"s":"0.5 eq","x":7.525,"y":-2.2},{"s":"0.5 eq","x":7.52,"y":-1.5},{"s":"0.5 eq","x":7.51,"y":-0.5},{"s":"0.5 eq","x":7.50,"y":0},{"s":"0.5 eq","x":7.49,"y":0.2},{"s":"0.5 eq","x":7.48,"y":0.3},{"s":"0.5 eq","x":7.47,"y":0.2},{"s":"0.5 eq","x":7.46,"y":0},{"s":"0.5 eq","x":7.45,"y":-0.1},{"s":"0.5 eq","x":7.44,"y":0},{"s":"0.5 eq","x":7.43,"y":0.2},{"s":"0.5 eq","x":7.42,"y":0.1},{"s":"0.5 eq","x":7.41,"y":0},{"s":"0.5 eq","x":7.40,"y":-0.1},{"s":"0.5 eq","x":7.39,"y":0},{"s":"0.5 eq","x":7.38,"y":0.1},{"s":"0.5 eq","x":7.37,"y":0},{"s":"0.5 eq","x":7.36,"y":-0.1},{"s":"0.5 eq","x":7.35,"y":-0.2},{"s":"0.5 eq","x":7.345,"y":-0.3},
      {"s":"0.75 eq","x":7.87,"y":-0.3},{"s":"0.75 eq","x":7.86,"y":-0.5},{"s":"0.75 eq","x":7.85,"y":-0.3},{"s":"0.75 eq","x":7.84,"y":0},{"s":"0.75 eq","x":7.83,"y":0.2},{"s":"0.75 eq","x":7.82,"y":0.4},{"s":"0.75 eq","x":7.81,"y":0.5},{"s":"0.75 eq","x":7.80,"y":0.4},{"s":"0.75 eq","x":7.79,"y":0.3},{"s":"0.75 eq","x":7.78,"y":0.1},{"s":"0.75 eq","x":7.77,"y":0},{"s":"0.75 eq","x":7.76,"y":-0.1},{"s":"0.75 eq","x":7.75,"y":-0.2},{"s":"0.75 eq","x":7.74,"y":-0.2},{"s":"0.75 eq","x":7.73,"y":-0.1},{"s":"0.75 eq","x":7.72,"y":0},{"s":"0.75 eq","x":7.71,"y":0.1},{"s":"0.75 eq","x":7.70,"y":0.1},{"s":"0.75 eq","x":7.69,"y":0},{"s":"0.75 eq","x":7.68,"y":-0.1},{"s":"0.75 eq","x":7.67,"y":-0.1},{"s":"0.75 eq","x":7.66,"y":0},{"s":"0.75 eq","x":7.655,"y":0.1},{"s":"0.75 eq","x":7.65,"y":0.2},{"s":"0.75 eq","x":7.645,"y":0.4},{"s":"0.75 eq","x":7.64,"y":0.8},{"s":"0.75 eq","x":7.635,"y":1.4},{"s":"0.75 eq","x":7.63,"y":2},{"s":"0.75 eq","x":7.625,"y":2.5},{"s":"0.75 eq","x":7.62,"y":2.8},{"s":"0.75 eq","x":7.615,"y":2.8},{"s":"0.75 eq","x":7.61,"y":2.5},{"s":"0.75 eq","x":7.605,"y":2},{"s":"0.75 eq","x":7.60,"y":1.3},{"s":"0.75 eq","x":7.595,"y":0.7},{"s":"0.75 eq","x":7.59,"y":0.3},{"s":"0.75 eq","x":7.585,"y":0},{"s":"0.75 eq","x":7.58,"y":-0.1},{"s":"0.75 eq","x":7.57,"y":-0.2},{"s":"0.75 eq","x":7.56,"y":-0.5},{"s":"0.75 eq","x":7.55,"y":-1},{"s":"0.75 eq","x":7.545,"y":-1.3},{"s":"0.75 eq","x":7.54,"y":-1.5},{"s":"0.75 eq","x":7.535,"y":-1.6},{"s":"0.75 eq","x":7.53,"y":-1.4},{"s":"0.75 eq","x":7.525,"y":-1.1},{"s":"0.75 eq","x":7.52,"y":-0.8},{"s":"0.75 eq","x":7.51,"y":-0.3},{"s":"0.75 eq","x":7.50,"y":0},{"s":"0.75 eq","x":7.49,"y":0.2},{"s":"0.75 eq","x":7.48,"y":0.3},{"s":"0.75 eq","x":7.47,"y":0.1},{"s":"0.75 eq","x":7.46,"y":0},{"s":"0.75 eq","x":7.45,"y":-0.1},{"s":"0.75 eq","x":7.44,"y":0},{"s":"0.75 eq","x":7.43,"y":0.1},{"s":"0.75 eq","x":7.42,"y":0.2},{"s":"0.75 eq","x":7.41,"y":0},{"s":"0.75 eq","x":7.40,"y":-0.1},{"s":"0.75 eq","x":7.39,"y":0},{"s":"0.75 eq","x":7.38,"y":0.1},{"s":"0.75 eq","x":7.37,"y":0.2},{"s":"0.75 eq","x":7.36,"y":0.1},{"s":"0.75 eq","x":7.35,"y":0},{"s":"0.75 eq","x":7.345,"y":-0.1},
      {"s":"1.0 eq","x":7.87,"y":0.3},{"s":"1.0 eq","x":7.86,"y":0.2},{"s":"1.0 eq","x":7.85,"y":0},{"s":"1.0 eq","x":7.84,"y":0.2},{"s":"1.0 eq","x":7.83,"y":0.4},{"s":"1.0 eq","x":7.82,"y":0.5},{"s":"1.0 eq","x":7.81,"y":0.6},{"s":"1.0 eq","x":7.80,"y":0.5},{"s":"1.0 eq","x":7.79,"y":0.3},{"s":"1.0 eq","x":7.78,"y":0.2},{"s":"1.0 eq","x":7.77,"y":0.3},{"s":"1.0 eq","x":7.76,"y":0.5},{"s":"1.0 eq","x":7.75,"y":0.4},{"s":"1.0 eq","x":7.74,"y":0.2},{"s":"1.0 eq","x":7.73,"y":0},{"s":"1.0 eq","x":7.72,"y":0.1},{"s":"1.0 eq","x":7.71,"y":0.3},{"s":"1.0 eq","x":7.70,"y":0.4},{"s":"1.0 eq","x":7.69,"y":0.2},{"s":"1.0 eq","x":7.68,"y":0},{"s":"1.0 eq","x":7.67,"y":0.1},{"s":"1.0 eq","x":7.66,"y":0.2},{"s":"1.0 eq","x":7.655,"y":0.3},{"s":"1.0 eq","x":7.65,"y":0.4},{"s":"1.0 eq","x":7.645,"y":0.5},{"s":"1.0 eq","x":7.64,"y":0.6},{"s":"1.0 eq","x":7.635,"y":0.7},{"s":"1.0 eq","x":7.63,"y":0.8},{"s":"1.0 eq","x":7.625,"y":0.8},{"s":"1.0 eq","x":7.62,"y":0.7},{"s":"1.0 eq","x":7.615,"y":0.6},{"s":"1.0 eq","x":7.61,"y":0.5},{"s":"1.0 eq","x":7.605,"y":0.4},{"s":"1.0 eq","x":7.60,"y":0.3},{"s":"1.0 eq","x":7.595,"y":0.2},{"s":"1.0 eq","x":7.59,"y":0.2},{"s":"1.0 eq","x":7.585,"y":0.3},{"s":"1.0 eq","x":7.58,"y":0.4},{"s":"1.0 eq","x":7.57,"y":0.5},{"s":"1.0 eq","x":7.56,"y":0.7},{"s":"1.0 eq","x":7.55,"y":1},{"s":"1.0 eq","x":7.545,"y":1.1},{"s":"1.0 eq","x":7.54,"y":1.2},{"s":"1.0 eq","x":7.535,"y":1.2},{"s":"1.0 eq","x":7.53,"y":1},{"s":"1.0 eq","x":7.525,"y":0.7},{"s":"1.0 eq","x":7.52,"y":0.3},{"s":"1.0 eq","x":7.51,"y":-0.2},{"s":"1.0 eq","x":7.50,"y":-0.6},{"s":"1.0 eq","x":7.49,"y":-0.9},{"s":"1.0 eq","x":7.48,"y":-1.1},{"s":"1.0 eq","x":7.47,"y":-1},{"s":"1.0 eq","x":7.46,"y":-0.5},{"s":"1.0 eq","x":7.45,"y":0},{"s":"1.0 eq","x":7.44,"y":0.4},{"s":"1.0 eq","x":7.43,"y":0.6},{"s":"1.0 eq","x":7.42,"y":0.4},{"s":"1.0 eq","x":7.41,"y":0},{"s":"1.0 eq","x":7.40,"y":-0.3},{"s":"1.0 eq","x":7.39,"y":-0.4},{"s":"1.0 eq","x":7.38,"y":-0.2},{"s":"1.0 eq","x":7.37,"y":0.2},{"s":"1.0 eq","x":7.36,"y":0.6},{"s":"1.0 eq","x":7.35,"y":0.4},{"s":"1.0 eq","x":7.345,"y":0.2},
      {"s":"1.25 eq","x":7.87,"y":-0.2},{"s":"1.25 eq","x":7.86,"y":-0.4},{"s":"1.25 eq","x":7.85,"y":-0.2},{"s":"1.25 eq","x":7.84,"y":0},{"s":"1.25 eq","x":7.83,"y":0.2},{"s":"1.25 eq","x":7.82,"y":0.3},{"s":"1.25 eq","x":7.81,"y":0.3},{"s":"1.25 eq","x":7.80,"y":0.2},{"s":"1.25 eq","x":7.79,"y":0.1},{"s":"1.25 eq","x":7.78,"y":0},{"s":"1.25 eq","x":7.77,"y":0},{"s":"1.25 eq","x":7.76,"y":0.1},{"s":"1.25 eq","x":7.75,"y":0.1},{"s":"1.25 eq","x":7.74,"y":0},{"s":"1.25 eq","x":7.73,"y":-0.1},{"s":"1.25 eq","x":7.72,"y":0},{"s":"1.25 eq","x":7.71,"y":0.1},{"s":"1.25 eq","x":7.70,"y":0.2},{"s":"1.25 eq","x":7.69,"y":0.1},{"s":"1.25 eq","x":7.68,"y":0},{"s":"1.25 eq","x":7.67,"y":0},{"s":"1.25 eq","x":7.66,"y":0},{"s":"1.25 eq","x":7.655,"y":0.1},{"s":"1.25 eq","x":7.65,"y":0.1},{"s":"1.25 eq","x":7.645,"y":0.2},{"s":"1.25 eq","x":7.64,"y":0.3},{"s":"1.25 eq","x":7.635,"y":0.3},{"s":"1.25 eq","x":7.63,"y":0.4},{"s":"1.25 eq","x":7.625,"y":0.4},{"s":"1.25 eq","x":7.62,"y":0.3},{"s":"1.25 eq","x":7.615,"y":0.3},{"s":"1.25 eq","x":7.61,"y":0.2},{"s":"1.25 eq","x":7.605,"y":0.1},{"s":"1.25 eq","x":7.60,"y":0},{"s":"1.25 eq","x":7.595,"y":0},{"s":"1.25 eq","x":7.59,"y":0},{"s":"1.25 eq","x":7.585,"y":0.1},{"s":"1.25 eq","x":7.58,"y":0.2},{"s":"1.25 eq","x":7.57,"y":0.3},{"s":"1.25 eq","x":7.56,"y":0.8},{"s":"1.25 eq","x":7.55,"y":1.8},{"s":"1.25 eq","x":7.545,"y":2.6},{"s":"1.25 eq","x":7.54,"y":3.2},{"s":"1.25 eq","x":7.535,"y":3.4},{"s":"1.25 eq","x":7.53,"y":3.2},{"s":"1.25 eq","x":7.525,"y":2.7},{"s":"1.25 eq","x":7.52,"y":2},{"s":"1.25 eq","x":7.51,"y":0.9},{"s":"1.25 eq","x":7.50,"y":0.3},{"s":"1.25 eq","x":7.49,"y":0},{"s":"1.25 eq","x":7.48,"y":-0.2},{"s":"1.25 eq","x":7.47,"y":-0.1},{"s":"1.25 eq","x":7.46,"y":0},{"s":"1.25 eq","x":7.45,"y":0.1},{"s":"1.25 eq","x":7.44,"y":0},{"s":"1.25 eq","x":7.43,"y":-0.1},{"s":"1.25 eq","x":7.42,"y":0},{"s":"1.25 eq","x":7.41,"y":0.1},{"s":"1.25 eq","x":7.40,"y":0},{"s":"1.25 eq","x":7.39,"y":-0.1},{"s":"1.25 eq","x":7.38,"y":0},{"s":"1.25 eq","x":7.37,"y":0.1},{"s":"1.25 eq","x":7.36,"y":0},{"s":"1.25 eq","x":7.35,"y":-0.1},{"s":"1.25 eq","x":7.345,"y":-0.1}
    ]
  },
  "hconcat": [
    {
      "width": 574,
      "height": 550,
      "encoding": {
        "x": {"field": "x", "type": "quantitative", "scale": {"domain": [6.7, 7.83], "reverse": true, "nice": false, "zero": false},
          "axis": {"orient": "bottom", "values": [7.8,7.75,7.7,7.65,7.6,7.55,7.5,7.45,7.4,7.35,7.3,7.25,7.2,7.15,7.1,7.05,7.0,6.95,6.9,6.85,6.8,6.75],
            "labelExpr": "abs(datum.value*5-round(datum.value*5))<0.01 ? format(datum.value,'.1f') : ''",
            "tickSize": {"condition": {"test": "abs(datum.value*5-round(datum.value*5))<0.01", "value": 7}, "value": 4},
            "labelFontSize": 21, "labelPadding": 3, "title": "¹H chemical shift (ppm)", "titleFontSize": 23, "titlePadding": 15}},
        "y": {"field": "y", "type": "quantitative", "scale": {"domain": [118.915, 125.6], "reverse": true, "nice": false, "zero": false},
          "axis": {"orient": "left", "values": [119,119.25,119.5,119.75,120,120.25,120.5,120.75,121,121.25,121.5,121.75,122,122.25,122.5,122.75,123,123.25,123.5,123.75,124,124.25,124.5,124.75,125,125.25,125.5],
            "labelExpr": "abs(datum.value-round(datum.value))<0.01 ? format(datum.value,'d') : ''",
            "tickSize": {"condition": {"test": "abs(datum.value-round(datum.value))<0.01", "value": 6}, "value": 3},
            "labelFontSize": 21, "labelPadding": 2, "title": "¹⁵N chemical shift (ppm)", "titleFontSize": 23, "titlePadding": 23}}
      },
      "layer": [
        {
          "data": {"name": "redContours"},
          "mark": {"type": "point", "filled": false, "stroke": "#ff1a1a", "strokeWidth": 0.8, "opacity": 1, "clip": true},
          "encoding": {
            "shape": {"field": "p", "type": "nominal", "legend": null, "scale": {
              "domain": ["R1","R2","R3","R4","R5","R6","R7","R8","R9","R10","R11","R12","R13","R14","R15","B1","B2","B3","B4","B5","B6","B7","B8","B9","B10","B11"],
              "range": [
                "M1.43,0C1.43,0.552 0.789,1 0,1C-0.789,1 -1.43,0.552 -1.43,0C-1.43,-0.552 -0.789,-1 0,-1C0.789,-1 1.43,-0.552 1.43,0Z",
                "M1.08,0C1.08,0.552 0.596,1 0,1C-0.596,1 -1.08,0.552 -1.08,0C-1.08,-0.552 -0.596,-1 0,-1C0.596,-1 1.08,-0.552 1.08,0Z",
                "M0.97,0C0.97,0.552 0.535,1 0,1C-0.535,1 -0.97,0.552 -0.97,0C-0.97,-0.552 -0.535,-1 0,-1C0.535,-1 0.97,-0.552 0.97,0Z",
                "M1.67,0C1.67,0.552 0.922,1 0,1C-0.922,1 -1.67,0.552 -1.67,0C-1.67,-0.552 -0.922,-1 0,-1C0.922,-1 1.67,-0.552 1.67,0Z",
                "M1.12,0C1.12,0.552 0.618,1 0,1C-0.618,1 -1.12,0.552 -1.12,0C-1.12,-0.552 -0.618,-1 0,-1C0.618,-1 1.12,-0.552 1.12,0Z",
                "M0.81,0C0.81,0.552 0.447,1 0,1C-0.447,1 -0.81,0.552 -0.81,0C-0.81,-0.552 -0.447,-1 0,-1C0.447,-1 0.81,-0.552 0.81,0Z",
                "M0.88,0C0.88,0.552 0.486,1 0,1C-0.486,1 -0.88,0.552 -0.88,0C-0.88,-0.552 -0.486,-1 0,-1C0.486,-1 0.88,-0.552 0.88,0Z",
                "M0.76,0C0.76,0.552 0.42,1 0,1C-0.42,1 -0.76,0.552 -0.76,0C-0.76,-0.552 -0.42,-1 0,-1C0.42,-1 0.76,-0.552 0.76,0Z",
                "M1,0C1,0.552 0.552,1 0,1C-0.552,1 -1,0.552 -1,0C-1,-0.552 -0.552,-1 0,-1C0.552,-1 1,-0.552 1,0Z",
                "M1.1,0C1.1,0.552 0.607,1 0,1C-0.607,1 -1.1,0.552 -1.1,0C-1.1,-0.552 -0.607,-1 0,-1C0.607,-1 1.1,-0.552 1.1,0Z",
                "M0.95,0C0.95,0.552 0.524,1 0,1C-0.524,1 -0.95,0.552 -0.95,0C-0.95,-0.552 -0.524,-1 0,-1C0.524,-1 0.95,-0.552 0.95,0Z",
                "M0.5,0C0.5,0.552 0.276,1 0,1C-0.276,1 -0.5,0.552 -0.5,0C-0.5,-0.552 -0.276,-1 0,-1C0.276,-1 0.5,-0.552 0.5,0Z",
                "M0.52,0C0.52,0.552 0.287,1 0,1C-0.287,1 -0.52,0.552 -0.52,0C-0.52,-0.552 -0.287,-1 0,-1C0.287,-1 0.52,-0.552 0.52,0Z",
                "M0.68,0C0.68,0.552 0.375,1 0,1C-0.375,1 -0.68,0.552 -0.68,0C-0.68,-0.552 -0.375,-1 0,-1C0.375,-1 0.68,-0.552 0.68,0Z",
                "M0.64,0C0.64,0.552 0.353,1 0,1C-0.353,1 -0.64,0.552 -0.64,0C-0.64,-0.552 -0.353,-1 0,-1C0.353,-1 0.64,-0.552 0.64,0Z",
                "M0.9,0C0.9,0.552 0.497,1 0,1C-0.497,1 -0.9,0.552 -0.9,0C-0.9,-0.552 -0.497,-1 0,-1C0.497,-1 0.9,-0.552 0.9,0Z",
                "M0.7,0C0.7,0.552 0.386,1 0,1C-0.386,1 -0.7,0.552 -0.7,0C-0.7,-0.552 -0.386,-1 0,-1C0.386,-1 0.7,-0.552 0.7,0Z",
                "M0.83,0C0.83,0.552 0.458,1 0,1C-0.458,1 -0.83,0.552 -0.83,0C-0.83,-0.552 -0.458,-1 0,-1C0.458,-1 0.83,-0.552 0.83,0Z",
                "M1,0C1,0.552 0.552,1 0,1C-0.552,1 -1,0.552 -1,0C-1,-0.552 -0.552,-1 0,-1C0.552,-1 1,-0.552 1,0Z",
                "M1,0C1,0.552 0.552,1 0,1C-0.552,1 -1,0.552 -1,0C-1,-0.552 -0.552,-1 0,-1C0.552,-1 1,-0.552 1,0Z",
                "M0.55,0C0.55,0.552 0.304,1 0,1C-0.304,1 -0.55,0.552 -0.55,0C-0.55,-0.552 -0.304,-1 0,-1C0.304,-1 0.55,-0.552 0.55,0Z",
                "M1,0C1,0.552 0.552,1 0,1C-0.552,1 -1,0.552 -1,0C-1,-0.552 -0.552,-1 0,-1C0.552,-1 1,-0.552 1,0Z",
                "M0.83,0C0.83,0.552 0.458,1 0,1C-0.458,1 -0.83,0.552 -0.83,0C-0.83,-0.552 -0.458,-1 0,-1C0.458,-1 0.83,-0.552 0.83,0Z",
                "M0.6,0C0.6,0.552 0.331,1 0,1C-0.331,1 -0.6,0.552 -0.6,0C-0.6,-0.552 -0.331,-1 0,-1C0.331,-1 0.6,-0.552 0.6,0Z",
                "M0.77,0C0.77,0.552 0.425,1 0,1C-0.425,1 -0.77,0.552 -0.77,0C-0.77,-0.552 -0.425,-1 0,-1C0.425,-1 0.77,-0.552 0.77,0Z",
                "M0.88,0C0.88,0.552 0.486,1 0,1C-0.486,1 -0.88,0.552 -0.88,0C-0.88,-0.552 -0.486,-1 0,-1C0.486,-1 0.88,-0.552 0.88,0Z"
              ]}},
            "size": {"field": "r", "type": "quantitative", "legend": null, "scale": {"type": "pow", "exponent": 2, "domain": [0, 1], "range": [0, 27073]}}
          }
        },
        {
          "data": {"name": "blackContours"},
          "mark": {"type": "point", "filled": true, "fill": "#8a8a8a", "fillOpacity": 0.12, "stroke": "#2e2e2e", "strokeWidth": 0.7, "opacity": 1, "clip": true},
          "encoding": {
            "shape": {"field": "p", "type": "nominal", "legend": null},
            "size": {"field": "r", "type": "quantitative", "legend": null}
          }
        },
        {
          "data": {"values": [{"x": 7.83, "y": 119, "x2": 6.7, "y2": 125.6}]},
          "mark": {"type": "rect", "filled": false, "stroke": "#222", "strokeWidth": 1.5},
          "encoding": {"x2": {"field": "x2"}, "y2": {"field": "y2"}}
        },
        {
          "data": {"values": [
            {"x": 7.766, "y": 120.823, "x2": 7.774, "y2": 120.216},
            {"x": 7.621, "y": 120.787, "x2": 7.707, "y2": 120.459},
            {"x": 7.585, "y": 121.88, "x2": 7.768, "y2": 121.88},
            {"x": 7.595, "y": 122.306, "x2": 7.772, "y2": 122.136},
            {"x": 7.762, "y": 122.744, "x2": 7.792, "y2": 122.282}
          ]},
          "mark": {"type": "rule", "color": "#1a1aff", "strokeWidth": 2},
          "encoding": {"x2": {"field": "x2"}, "y2": {"field": "y2"}}
        },
        {
          "data": {"values": [{"x": 7.766, "y": 120.799, "x2": 7.802, "y2": 120.459}]},
          "mark": {"type": "rule", "color": "#ff1a1a", "strokeWidth": 2},
          "encoding": {"x2": {"field": "x2"}, "y2": {"field": "y2"}}
        },
        {
          "data": {"values": [
            {"x": 6.799, "y": 120.459, "x2": 6.481, "y2": 118.915},
            {"x": 7.597, "y": 124.75, "x2": 6.481, "y2": 122.902}
          ]},
          "mark": {"type": "rule", "color": "#231f20", "strokeWidth": 1.3},
          "encoding": {"x2": {"field": "x2"}, "y2": {"field": "y2"}}
        },
        {
          "data": {"values": [
            {"t": "V18", "x": 7.816, "y": 120.98},
            {"t": "V122", "x": 7.619, "y": 120.86},
            {"t": "W36", "x": 7.569, "y": 121.94},
            {"t": "M37", "x": 7.575, "y": 122.34},
            {"t": "F74", "x": 7.786, "y": 122.93},
            {"t": "I57", "x": 7.749, "y": 123.64},
            {"t": "A115", "x": 7.762, "y": 124.14},
            {"t": "A32", "x": 7.668, "y": 124.57},
            {"t": "I127", "x": 7.507, "y": 125.10}
          ]},
          "mark": {"type": "text", "fontSize": 25, "align": "left", "baseline": "middle", "color": "#1a1aff"},
          "encoding": {"text": {"field": "t"}}
        },
        {
          "data": {"values": [{"t": "Black : Free Paip2A(FL)", "x": 7.78, "y": 119.222}]},
          "mark": {"type": "text", "fontSize": 22, "align": "left", "baseline": "middle", "color": "#111111"},
          "encoding": {"text": {"field": "t"}}
        },
        {
          "data": {"values": [{"t": "Red : with 1.0 eq RRM1/2/3/4", "x": 7.78, "y": 119.526}]},
          "mark": {"type": "text", "fontSize": 22, "align": "left", "baseline": "middle", "color": "#ff1a1a"},
          "encoding": {"text": {"field": "t"}}
        },
        {
          "data": {"values": [{"t": "b", "x": 8.067, "y": 119.085}]},
          "mark": {"type": "text", "fontSize": 40, "align": "left", "baseline": "alphabetic", "color": "#231f20"},
          "encoding": {"text": {"field": "t"}}
        }
      ]
    },
    {
      "bounds": "flush",
      "spacing": 71,
      "vconcat": [
        {
          "width": 254,
          "height": 257,
          "encoding": {
            "x": {"field": "x", "type": "quantitative", "scale": {"domain": [6.535, 7.056], "reverse": true, "nice": false, "zero": false},
              "axis": {"orient": "bottom", "values": [7.04,7.02,7.0,6.98,6.96,6.94,6.92,6.9,6.88,6.86,6.84,6.82,6.8,6.78,6.76,6.74,6.72,6.7,6.68,6.66,6.64,6.62,6.6,6.58,6.56,6.54],
                "labelExpr": "abs(datum.value*10-round(datum.value*10))<0.01 ? format(datum.value,'.1f') : ''",
                "tickSize": {"condition": {"test": "abs(datum.value*10-round(datum.value*10))<0.01", "value": 4}, "value": 2},
                "labelFontSize": 13, "labelPadding": 3, "title": "¹H chemical shift \u00a0(ppm)", "titleFontSize": 22, "titlePadding": 1}},
            "y": {"field": "y", "type": "quantitative", "scale": {"domain": [-0.6, 5.59], "nice": false, "zero": false},
              "axis": {"orient": "right", "values": [-0.4,-0.2,0,0.2,0.4,0.6,0.8,1,1.2,1.4,1.6,1.8,2,2.2,2.4,2.6,2.8,3,3.2,3.4,3.6,3.8,4,4.2,4.4,4.6,4.8,5,5.2,5.4],
                "labelExpr": "abs(datum.value-round(datum.value))<0.01 ? format(datum.value,'d') : ''",
                "tickSize": {"condition": {"test": "abs(datum.value-round(datum.value))<0.01", "value": 4}, "value": 2},
                "labelAngle": 90, "labelFontSize": 12, "labelPadding": 2, "title": "Relative intensity", "titleAngle": 270, "titleBaseline": "top", "titleFontSize": 22, "titlePadding": 5}}
          },
          "layer": [
            {
              "data": {"values": [{"x": 7.056, "y": -0.6, "x2": 6.535, "y2": 5.59}]},
              "mark": {"type": "rect", "filled": false, "stroke": "#222", "strokeWidth": 1.3},
              "encoding": {"x2": {"field": "x2"}, "y2": {"field": "y2"}}
            },
            {
              "data": {"name": "trace1204"},
              "mark": {"type": "line", "strokeWidth": 1.1, "interpolate": "monotone", "clip": true},
              "encoding": {"color": {"field": "s", "type": "nominal", "legend": null, "scale": {"domain": ["0 eq","0.25 eq","0.5 eq","0.75 eq","1.0 eq","1.25 eq"], "range": ["#3535ff","#ff2020","#72c44a","#ff1aff","#ffe600","#ff9a3c"]}}}
            },
            {
              "data": {"values": [
                {"s": "1.25 eq", "x": 6.745, "y": 3.86},
                {"s": "1.0 eq", "x": 6.745, "y": 3.33},
                {"s": "0.75 eq", "x": 6.745, "y": 2.80},
                {"s": "0.5 eq", "x": 6.745, "y": 1.81},
                {"s": "0.25 eq", "x": 6.745, "y": 0.77},
                {"s": "0 eq", "x": 6.745, "y": 0.41}
              ]},
              "mark": {"type": "text", "fontSize": 14, "align": "left", "baseline": "middle"},
              "encoding": {"text": {"field": "s"}, "color": {"field": "s", "type": "nominal", "legend": null}}
            },
            {
              "data": {"values": [
                {"t": "¹⁵N chemical shift :120.4 ppm", "x": 7.042, "y": 5.23},
                {"t": "Newly observed Signal", "x": 7.042, "y": 4.70}
              ]},
              "mark": {"type": "text", "fontSize": 17, "align": "left", "baseline": "middle", "color": "#111111"},
              "encoding": {"text": {"field": "t"}}
            }
          ]
        },
        {
          "width": 256,
          "height": 251,
          "encoding": {
            "x": {"field": "x", "type": "quantitative", "scale": {"domain": [7.343, 7.87], "reverse": true, "nice": false, "zero": false},
              "axis": {"orient": "bottom", "values": [7.86,7.84,7.82,7.8,7.78,7.76,7.74,7.72,7.7,7.68,7.66,7.64,7.62,7.6,7.58,7.56,7.54,7.52,7.5,7.48,7.46,7.44,7.42,7.4,7.38,7.36],
                "labelExpr": "abs(datum.value*10-round(datum.value*10))<0.01 ? format(datum.value,'.1f') : ''",
                "tickSize": {"condition": {"test": "abs(datum.value*10-round(datum.value*10))<0.01", "value": 4}, "value": 2},
                "labelFontSize": 13, "labelPadding": 4, "title": "¹H chemical shift \u00a0(ppm)", "titleFontSize": 22, "titlePadding": 1}},
            "y": {"field": "y", "type": "quantitative", "scale": {"domain": [-7.2, 62.1], "nice": false, "zero": false},
              "axis": {"orient": "right", "values": [-6,-4,-2,0,2,4,6,8,10,12,14,16,18,20,22,24,26,28,30,32,34,36,38,40,42,44,46,48,50,52,54,56,58,60,62],
                "labelExpr": "datum.value % 10 == 0 ? format(datum.value,'d') : ''",
                "tickSize": {"condition": {"test": "datum.value % 10 == 0", "value": 4}, "value": 2},
                "labelAngle": 90, "labelFontSize": 12, "labelPadding": 2, "title": "Relative intensity", "titleAngle": 270, "titleBaseline": "top", "titleFontSize": 22, "titlePadding": 3}}
          },
          "layer": [
            {
              "data": {"values": [{"x": 7.87, "y": -7.2, "x2": 7.343, "y2": 62.1}]},
              "mark": {"type": "rect", "filled": false, "stroke": "#222", "strokeWidth": 1.3},
              "encoding": {"x2": {"field": "x2"}, "y2": {"field": "y2"}}
            },
            {
              "data": {"name": "traceA32"},
              "mark": {"type": "line", "strokeWidth": 1.1, "interpolate": "monotone", "clip": true},
              "encoding": {"color": {"field": "s", "type": "nominal", "legend": null, "scale": {"domain": ["0 eq","0.25 eq","0.5 eq","0.75 eq","1.0 eq","1.25 eq"], "range": ["#3535ff","#ff2020","#72c44a","#ff1aff","#ffe600","#ff9a3c"]}}}
            },
            {
              "data": {"values": [
                {"s": "0 eq", "x": 7.572, "y": 47.2},
                {"s": "0.25 eq", "x": 7.578, "y": 36.7},
                {"s": "0.5 eq", "x": 7.578, "y": 18.4},
                {"s": "0.75 eq", "x": 7.578, "y": 14.3},
                {"s": "1.0 eq", "x": 7.578, "y": 10.4},
                {"s": "1.25 eq", "x": 7.578, "y": 6.5}
              ]},
              "mark": {"type": "text", "fontSize": 14, "align": "left", "baseline": "middle"},
              "encoding": {"text": {"field": "s"}, "color": {"field": "s", "type": "nominal", "legend": null}}
            },
            {
              "data": {"values": [
                {"t": "¹⁵N chemical shift :124.9 ppm", "x": 7.855, "y": 58.7},
                {"t": "Signal of A32", "x": 7.855, "y": 53.1}
              ]},
              "mark": {"type": "text", "fontSize": 17, "align": "left", "baseline": "middle", "color": "#111111"},
              "encoding": {"text": {"field": "t"}}
            }
          ]
        }
      ]
    }
  ]
}
